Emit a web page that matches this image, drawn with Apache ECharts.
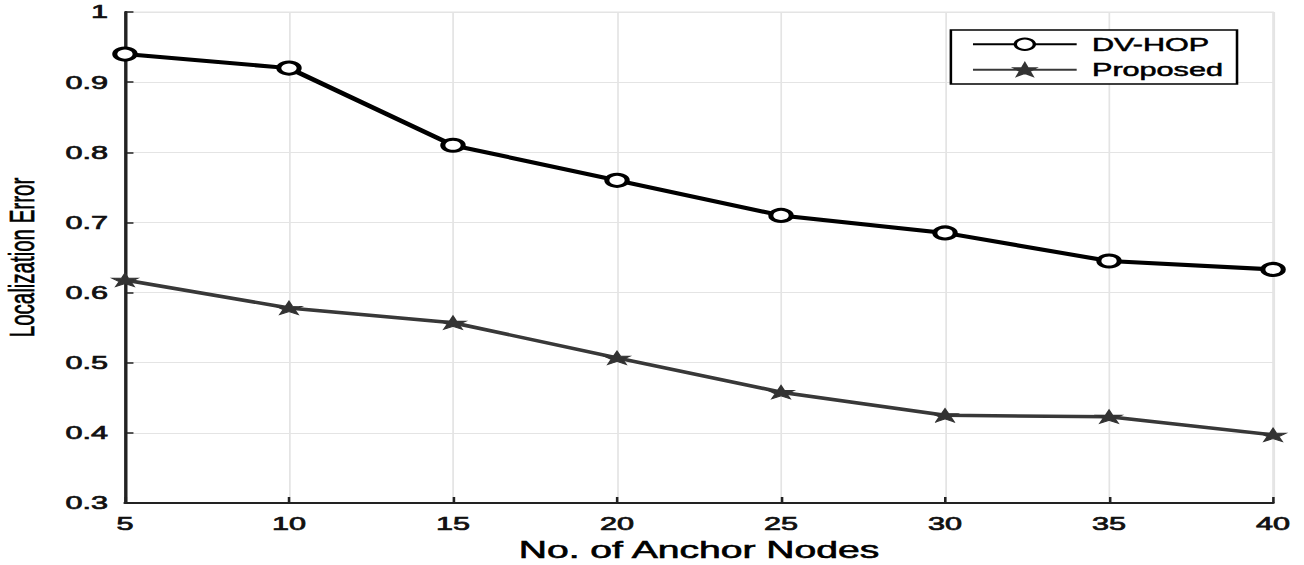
<!DOCTYPE html>
<html><head><meta charset="utf-8">
<script src="https://cdn.jsdelivr.net/npm/echarts@6/dist/echarts.min.js"></script>
<style>
html,body{margin:0;padding:0;background:#fff;overflow:hidden}
#wrap{width:1304px;height:565px;overflow:hidden}
#c{width:767px;height:565px;transform:scaleX(1.70013);transform-origin:0 0}
</style>
</head><body><div id="wrap"><div id="c"></div></div>
<script>
const categories = [5, 10, 15, 20, 25, 30, 35, 40];
const dvHop = [0.94, 0.92, 0.81, 0.76, 0.71, 0.685, 0.645, 0.633];
const proposed = [0.618, 0.578, 0.557, 0.507, 0.458, 0.425, 0.423, 0.397];
const seriesNames = ['DV-HOP', 'Proposed'];
const xName = 'No. of Anchor Nodes';
const yName = 'Localization Error';

const chart = echarts.init(document.getElementById('c'), null, {renderer: 'svg'});
const FF = 'Liberation Sans, Arial, Helvetica, sans-serif';
const heavy = {textBorderColor: '#111', textBorderWidth: 0.7};
const tickFont = Object.assign({fontFamily: FF, fontSize: 18, color: '#111'}, heavy);
chart.setOption({
  animation: false,
  backgroundColor: '#fff',
  grid: {left: 73.5, right: 18.2, top: 12, bottom: 62, outerBoundsMode: 'none', containLabel: false,
         show: true, borderColor: '#e4e4e4', borderWidth: 1},
  legend: {
    right: 39.4, top: 30,
    orient: 'vertical',
    backgroundColor: '#fff',
    borderColor: '#000', borderWidth: 1.5, borderRadius: 0,
    padding: [5, 8, 5, 12],
    itemWidth: 61, itemHeight: 14, itemGap: 7,
    textStyle: Object.assign({fontFamily: FF, fontSize: 18, color: '#000', padding: [0, 0, 0, 4]}, {textBorderColor: '#000', textBorderWidth: 0.5})
  },
  xAxis: {
    type: 'value', min: 5, max: 40, interval: 5,
    name: xName, nameLocation: 'middle', nameGap: 36,
    nameTextStyle: Object.assign({fontFamily: FF, fontSize: 23, color: '#000'}, {textBorderColor: '#000', textBorderWidth: 0.6}),
    axisLine: {show: true, onZero: false, lineStyle: {color: '#222', width: 2}},
    axisTick: {show: true, inside: true, length: 6, lineStyle: {color: '#222', width: 1.5}},
    axisLabel: Object.assign({margin: 12}, tickFont),
    splitLine: {show: true, lineStyle: {color: '#e4e4e4', width: 1}}
  },
  yAxis: {
    type: 'value', min: 0.3, max: 1, interval: 0.1,
    name: yName, nameLocation: 'middle', nameGap: 50,
    nameTextStyle: Object.assign({fontFamily: FF, fontSize: 20.5, color: '#000'}, {textBorderColor: '#000', textBorderWidth: 0.4}),
    axisLine: {show: true, onZero: false, lineStyle: {color: '#222', width: 2}},
    axisTick: {show: true, inside: true, length: 5, lineStyle: {color: '#222', width: 1.5}},
    axisLabel: Object.assign({margin: 10, formatter: v => (Math.round(v*10)/10).toString()}, tickFont),
    splitLine: {show: true, lineStyle: {color: '#e4e4e4', width: 1}}
  },
  series: [
    {
      name: seriesNames[0], type: 'line',
      data: categories.map((x, i) => [x, dvHop[i]]),
      symbol: 'circle', symbolSize: 12,
      lineStyle: {color: '#000', width: 4},
      itemStyle: {color: '#fff', borderColor: '#000', borderWidth: 3},
      z: 3
    },
    {
      name: seriesNames[1], type: 'line',
      data: categories.map((x, i) => [x, proposed[i]]),
      symbol: 'path://M5,0 L6.3,3 L10,3 L7.2,5 L8.5,8 L5,6.2 L1.5,8 L2.8,5 L0,3 L3.7,3 Z', symbolSize: [15, 13],
      lineStyle: {color: '#383838', width: 3.5},
      itemStyle: {color: '#333', borderColor: '#333', borderWidth: 1},
      z: 2
    }
  ]
});
</script></body></html>
